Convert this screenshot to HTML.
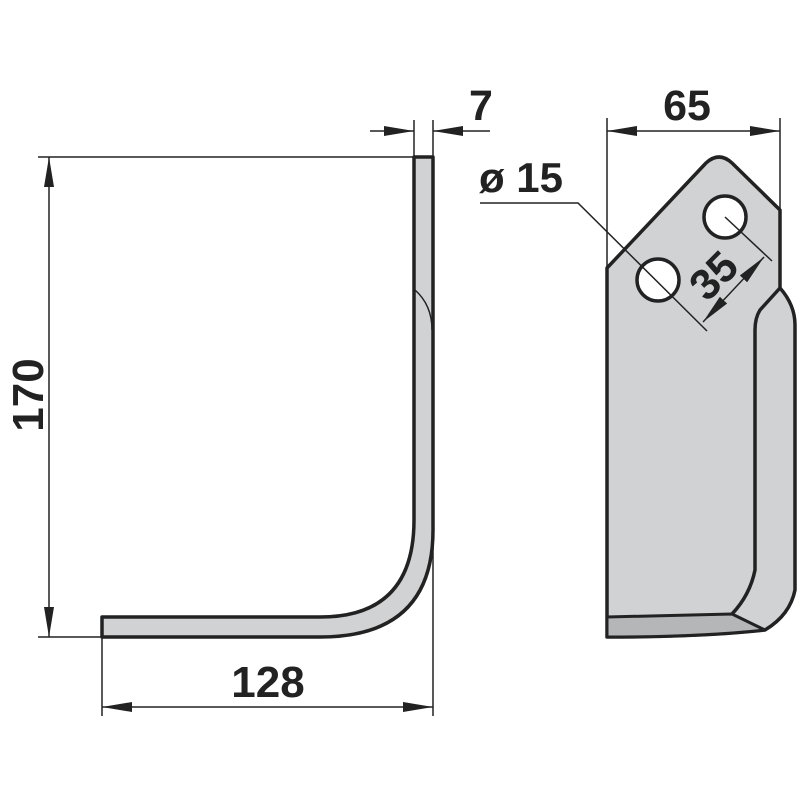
<!DOCTYPE html>
<html><head><style>body{margin:0;background:#fff}svg{display:block}text{font-family:"Liberation Sans",sans-serif;font-weight:bold;fill:#222}</style></head>
<body>
<svg width="800" height="800" viewBox="0 0 800 800">
<defs>
<marker id="a" viewBox="0 0 30 10" refX="30" refY="5" markerWidth="30" markerHeight="10" markerUnits="userSpaceOnUse" orient="auto-start-reverse"><path d="M0,0 L30,5 L0,10Z" fill="#222"/></marker>
</defs>
<g stroke="#222" stroke-width="1.5" fill="none">
<line x1="38" y1="157" x2="414" y2="157"/>
<line x1="38" y1="637" x2="102" y2="637"/>
<line x1="102" y1="637" x2="102" y2="716"/>
<line x1="433" y1="120" x2="433" y2="716"/>
<line x1="414" y1="120" x2="414" y2="157"/>
<line x1="607" y1="118" x2="607" y2="268"/>
<line x1="780" y1="118" x2="780" y2="210"/>
<line x1="49" y1="157" x2="49" y2="637" marker-start="url(#a)" marker-end="url(#a)"/>
<line x1="102" y1="707" x2="433" y2="707" marker-start="url(#a)" marker-end="url(#a)"/>
<line x1="370" y1="131" x2="414" y2="131" marker-end="url(#a)"/>
<line x1="490" y1="131" x2="433" y2="131" marker-end="url(#a)"/>
<line x1="607" y1="131" x2="780" y2="131" marker-start="url(#a)" marker-end="url(#a)"/>
</g>
<path d="M414,157 L433,157 L433,530 Q433,637 320,637 L102,637 L102,617 L320,617 Q414,617 414,520 Z" fill="#d1d2d4" stroke="#222" stroke-width="3.5" stroke-linejoin="round"/>
<path d="M415,290 Q432,305 432,330" fill="none" stroke="#222" stroke-width="1.5"/>
<path d="M607,268 L706,163 Q719,151 732,163 L780,210 L780,288 Q795,305 795,325 L795,590 Q790,615 765,630 Q700,637 607,637 Z" fill="#d1d2d4" stroke="#222" stroke-width="3.5" stroke-linejoin="round"/>
<path d="M607,617 L732,614 L765,630 Q700,637 607,637 Z" fill="#b5b6b8" stroke="#222" stroke-width="3" stroke-linejoin="round"/>
<path d="M780,288 L760,310 Q755,318 755,330 L755,570 Q750,595 732,614" fill="none" stroke="#222" stroke-width="3.5"/>
<circle cx="658" cy="280" r="21" fill="#fff" stroke="#222" stroke-width="3.5"/>
<circle cx="725" cy="217" r="21" fill="#fff" stroke="#222" stroke-width="3.5"/>
<g stroke="#222" stroke-width="1.5" fill="none">
<polyline points="480,203 578,203 707,331"/>
<line x1="725" y1="217" x2="772" y2="261"/>
<line x1="703" y1="322" x2="764" y2="257" marker-start="url(#a)" marker-end="url(#a)"/>
</g>
<text x="687" y="120" font-size="43" text-anchor="middle">65</text>
<text x="481" y="120" font-size="43" text-anchor="middle">7</text>
<text x="521" y="192" font-size="42" text-anchor="middle">ø 15</text>
<text x="268" y="697" font-size="44" text-anchor="middle">128</text>
<text transform="translate(43,395) rotate(-90)" font-size="44" text-anchor="middle">170</text>
<text transform="translate(724,286) rotate(-45)" font-size="43" text-anchor="middle">35</text>
</svg>
</body></html>
